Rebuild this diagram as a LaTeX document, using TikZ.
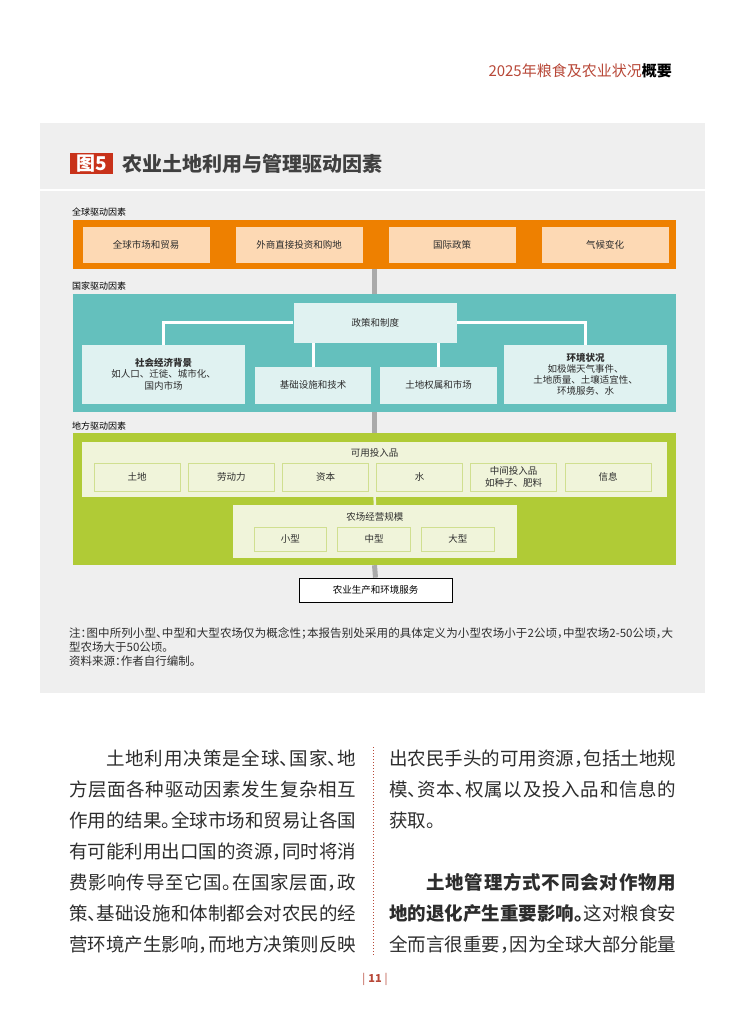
\documentclass[tikz,border=0pt]{standalone}
\usepackage{fontspec}
\setmainfont{Noto Sans CJK SC}
\newfontfamily\halffont[RawFeature=+halt]{Noto Sans CJK SC}
\XeTeXlinebreaklocale "zh"
\XeTeXlinebreakskip=0pt plus 2pt minus 0.4pt

\definecolor{headred}{RGB}{184,72,56}
\definecolor{figred}{RGB}{200,50,26}
\definecolor{panelgray}{RGB}{239,239,239}
\definecolor{titlegray}{RGB}{64,64,64}
\definecolor{textdark}{RGB}{45,45,45}
\definecolor{globorange}{RGB}{238,128,0}
\definecolor{globpeach}{RGB}{253,217,180}
\definecolor{natteal}{RGB}{100,192,189}
\definecolor{natlight}{RGB}{224,242,241}
\definecolor{locgreen}{RGB}{176,203,54}
\definecolor{loclight}{RGB}{240,244,218}
\definecolor{locline}{RGB}{208,223,144}
\definecolor{linkgray}{RGB}{170,170,170}

\newcommand{\dgfont}{\fontsize{9.5}{11.3}\selectfont}
\newcommand{\lblfont}{\fontsize{9}{11}\selectfont}
\newcommand{\notefont}{\halffont\fontsize{11.5}{14}\selectfont}
\newcommand{\colfont}{\halffont\fontsize{18.5}{31}\selectfont}

\begin{document}
\begin{tikzpicture}[x=1pt, y=-1pt,
  txt/.style={inner sep=0pt, text=textdark, font=\dgfont},
  bandlabel/.style={anchor=west, inner sep=0pt, font=\lblfont},
  band/.style={fill=#1, inner sep=0pt, minimum width=603},
  globbox/.style={fill=globpeach, txt, minimum width=127, minimum height=36},
  natbox/.style={fill=natlight, txt, align=center},
  inbox/.style={fill=loclight, draw=locline, line width=1, txt, align=center,
    minimum width=86, minimum height=28},
  sizebox/.style={inbox, minimum width=72.5, minimum height=24.7},
  natlink/.style={draw=white, line width=3},
  linkline/.style={draw=linkgray, line width=5},
  column/.style={anchor=base west, inner sep=0pt, align=justify, text=textdark,
    font=\colfont, text width=287}]
  % page and running head
  \fill[white] (0,0) rectangle (745,1024);
  \useasboundingbox (0,0) rectangle (745,1024);
  \node[anchor=east, inner sep=0pt, font=\fontsize{15}{17}\selectfont] (head) at (672,71)
    {\textcolor{headred}{2025年粮食及农业状况}\textbf{概要}};

  % figure panel and title
  \fill[panelgray] (40,123) rectangle (705,693);
  \draw[white, line width=2] (40,190) -- (705,190);
  \node[fill=figred, text=white, inner sep=0pt, minimum width=43, minimum height=21,
    font=\fontsize{19}{21}\selectfont\bfseries] (fignum) at (91.5,163.5) {图5};
  \node[anchor=west, inner sep=0pt, text=titlegray, font=\fontsize{20}{22}\selectfont\bfseries]
    (figtitle) at (122,163.5) {农业土地利用与管理驱动因素};

  % global drivers
  \node[bandlabel] (globlbl) at (72,212.5) {全球驱动因素};
  \node[band=globorange, minimum height=49] (global) at (374.5,244.5) {};
  \node[globbox] (market) at (146,244.7) {全球市场和贸易};
  \node[globbox] (invest) at (299,244.7) {外商直接投资和购地};
  \node[globbox] (intpol) at (452,244.7) {国际政策};
  \node[globbox] (climate) at (605,244.7) {气候变化};

  % national drivers
  \node[bandlabel] (natlbl) at (72,286) {国家驱动因素};
  \node[band=natteal, minimum height=117.5] (national) at (374.5,352.75) {};
  \draw[linkline] (global.south) -- (national.north);
  \node[natbox, minimum width=163.5, minimum height=40.3] (policy) at (375.25,322.85) {政策和制度};
  \node[natbox, minimum width=162.6, minimum height=58.5] (socio) at (163.7,374.25)
    {\textbf{社会经济背景}\\如人口、迁徙、城市化、\\国内市场};
  \node[natbox, minimum width=116, minimum height=36.5] (infra) at (313,385.25) {基础设施和技术};
  \node[natbox, minimum width=117, minimum height=36.5] (tenure) at (438.5,385.25) {土地权属和市场};
  \node[natbox, minimum width=163, minimum height=58.5] (environ) at (585.5,374.25)
    {\textbf{环境状况}\\如极端天气事件、\\土地质量、土壤适宜性、\\环境服务、水};
  \draw[natlink] (policy.west) -| (socio.north);
  \draw[natlink] (policy.east) -| (environ.north);
  \draw[natlink] (policy.south -| infra.north) -- (infra.north);
  \draw[natlink] (policy.south -| tenure.north) -- (tenure.north);

  % local drivers
  \node[bandlabel] (loclbl) at (72,426.5) {地方驱动因素};
  \node[band=locgreen, minimum height=131.7] (local) at (374.5,499.15) {};
  \draw[linkline] (national.south) -- (local.north);
  \node[fill=loclight, inner sep=0pt, minimum width=584.6, minimum height=55] (inputs) at (374.7,469.2) {};
  \node[txt] (inputstitle) at (374.7,453) {可用投入品};
  \node[inbox] (land) at (137,477) {土地};
  \node[inbox] (labour) at (231.3,477) {劳动力};
  \node[inbox] (capital) at (325.5,477) {资本};
  \node[inbox] (water) at (419.5,477) {水};
  \node[inbox] (interm) at (513.5,477) {中间投入品\\如种子、肥料};
  \node[inbox] (info) at (608,477) {信息};
  \node[fill=loclight, inner sep=0pt, minimum width=284.4, minimum height=53] (farm) at (374.8,531.5) {};
  \draw[draw=loclight, line width=2.5] (inputs.south) -- (farm.north);
  \node[txt] (farmtitle) at (374.8,517) {农场经营规模};
  \node[sizebox] (small) at (290.25,539.35) {小型};
  \node[sizebox] (medium) at (374,539.35) {中型};
  \node[sizebox] (large) at (457.8,539.35) {大型};

  % outcome
  \node[draw=black, fill=white, line width=0.8, txt, text=black, minimum width=153,
    minimum height=24.5] (output) at (375.5,590.25) {农业生产和环境服务};
  \draw[linkline] (local.south) -- (output.north);

  % notes under the figure
  \node[anchor=base west, inner sep=0pt, text width=604, align=justify, text=textdark,
    font=\notefont] (note) at (69,637.5)
    {注：图中所列小型、中型和大型农场仅为概念性；本报告别处采用的具体定义为小型农场小于2公顷，中型农场2-50公顷，大\linebreak 型农场大于50公顷。\\资料来源：作者自行编制。};

  % body text in two columns
  \node[column] (leftcol) at (69,765)
    {\hspace*{2em}土地利用决策是全球、国家、地\linebreak 方层面各种驱动因素发生复杂相互\linebreak 作用的结果。全球市场和贸易让各国\linebreak 有可能利用出口国的资源，同时将消\linebreak 费影响传导至它国。在国家层面，政\linebreak 策、基础设施和体制都会对农民的经\linebreak 营环境产生影响，而地方决策则反映\parfillskip=0pt\par};
  \node[column] (rightcol) at (389,765)
    {出农民手头的可用资源，包括土地规\linebreak 模、资本、权属以及投入品和信息的\linebreak 获取。\par\vspace{31pt}\hspace*{2em}\textbf{土地管理方式不同会对作物用\linebreak 地的退化产生重要影响。}这对粮食安\linebreak 全而言很重要，因为全球大部分能量\parfillskip=0pt\par};
  \draw[headred, dotted, line width=1] (373,747) -- (373,956);

  % folio
  \node[inner sep=0pt, text=headred, font=\fontsize{11}{13}\selectfont] (folio) at (375,979)
    {|\hspace{3pt}\textbf{11}\hspace{3pt}|};
\end{tikzpicture}
\end{document}
